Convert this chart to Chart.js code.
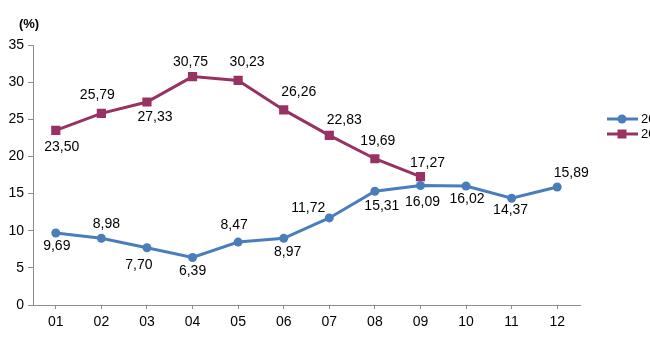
<!DOCTYPE html>
<html>
<head>
<meta charset="utf-8">
<script src="https://cdn.jsdelivr.net/npm/chart.js@4/dist/chart.umd.min.js"></script>
<style>
html,body{margin:0;padding:0;background:#fff;overflow:hidden;}
#wrap{width:650px;height:360px;}
</style>
</head>
<body>
<div id="wrap"><canvas id="c" width="650" height="360"></canvas></div>
<script>
// ---- data ----
const categories = ['01','02','03','04','05','06','07','08','09','10','11','12'];
const seriesNames = ['2022','2023'];
const seriesA = [9.69, 8.98, 7.70, 6.39, 8.47, 8.97, 11.72, 15.31, 16.09, 16.02, 14.37, 15.89];
const seriesB = [23.50, 25.79, 27.33, 30.75, 30.23, 26.26, 22.83, 19.69, 17.27, null, null, null];
const yTicks = [0, 5, 10, 15, 20, 25, 30, 35];
const unitLabel = '(%)';

// ---- label placement (pixel offsets from each point) ----
const offA = [[1,13],[5,-14],[-8,17],[0,14],[-4,-17],[4,14],[-21,-10],[7,15],[2,17],[1,13],[-1,12],[14,-14]];
const offB = [[6,17],[-4,-18],[8,15],[-2,-14],[9,-18],[15,-18],[15,-15],[3,-18],[7,-14]];

const BLUE = '#4a7ebb';
const MAROON = '#983262';
const AXIS = '#8c8c8c';
const FONT = '"Liberation Sans", Arial, sans-serif';

const fmt = v => v.toFixed(2).replace('.', ',');

const labelPlugin = {
  id: 'labels',
  afterDatasetsDraw(chart) {
    const ctx = chart.ctx;
    ctx.save();
    ctx.font = '14px ' + FONT;
    ctx.fillStyle = '#000';
    ctx.textAlign = 'center';
    ctx.textBaseline = 'middle';
    [offA, offB].forEach((offs, di) => {
      const meta = chart.getDatasetMeta(di);
      const vals = chart.data.datasets[di].data;
      meta.data.forEach((pt, i) => {
        if (vals[i] == null || !offs[i]) return;
        ctx.fillText(fmt(vals[i]), pt.x + offs[i][0], pt.y + offs[i][1]);
      });
    });
    // unit label
    ctx.font = 'bold 13px ' + FONT;
    ctx.fillText(unitLabel, 29, 24);
    // legend (extends past the right edge, as in the reference)
    const items = [
      {name: seriesNames[0], color: BLUE, y: 119, shape: 'circle'},
      {name: seriesNames[1], color: MAROON, y: 134, shape: 'rect'}
    ];
    items.forEach(it => {
      ctx.strokeStyle = it.color;
      ctx.lineWidth = 3;
      ctx.beginPath();
      ctx.moveTo(607, it.y);
      ctx.lineTo(638, it.y);
      ctx.stroke();
      ctx.fillStyle = it.color;
      ctx.beginPath();
      if (it.shape === 'circle') ctx.arc(622, it.y, 4.5, 0, Math.PI * 2);
      else ctx.rect(617.5, it.y - 4.5, 9, 9);
      ctx.fill();
      ctx.fillStyle = '#000';
      ctx.font = '13px ' + FONT;
      ctx.textAlign = 'left';
      ctx.fillText(it.name, 641, it.y);
    });
    ctx.restore();
  }
};

new Chart(document.getElementById('c'), {
  type: 'line',
  data: {
    labels: categories,
    datasets: [
      {
        label: seriesNames[0], data: seriesA,
        borderColor: BLUE, backgroundColor: BLUE, borderWidth: 3,
        pointStyle: 'circle', pointRadius: 4.5, pointBorderWidth: 0,
        pointBackgroundColor: BLUE, tension: 0
      },
      {
        label: seriesNames[1], data: seriesB,
        borderColor: MAROON, backgroundColor: MAROON, borderWidth: 3,
        pointStyle: 'rect', pointRadius: 6.5, pointBorderWidth: 0,
        pointBackgroundColor: MAROON, tension: 0, spanGaps: false
      }
    ]
  },
  options: {
    responsive: false,
    animation: false,
    devicePixelRatio: 1,
    layout: { padding: { left: 0, right: 70, top: 45, bottom: 0 } },
    plugins: { legend: { display: false }, tooltip: { enabled: false } },
    scales: {
      x: {
        offset: true,
        grid: { display: true, drawOnChartArea: false, drawTicks: true, tickLength: 4, color: AXIS, offset: false },
        border: { display: true, color: AXIS, width: 1 },
        ticks: { color: '#000', font: { family: FONT, size: 14 }, padding: 5, maxRotation: 0 },
        afterFit(s) { s.height = 55; }
      },
      y: {
        min: 0, max: 35,
        afterBuildTicks(s) { s.ticks = yTicks.map(v => ({ value: v })); },
        grid: { display: true, drawOnChartArea: false, drawTicks: true, tickLength: 5, color: AXIS },
        border: { display: true, color: AXIS, width: 1 },
        ticks: { color: '#000', font: { family: FONT, size: 14 }, padding: 4 },
        afterFit(s) { s.width = 33; }
      }
    }
  },
  plugins: [labelPlugin]
});
</script>
</body>
</html>
